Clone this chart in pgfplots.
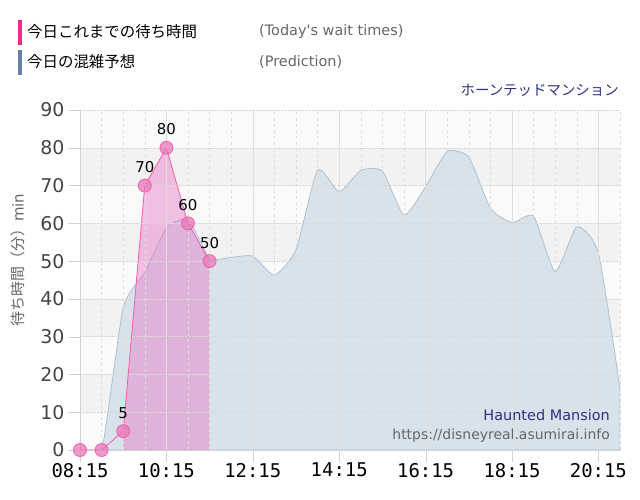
\documentclass[border=0pt]{standalone}
\usepackage{pgfplots}
\pgfplotsset{compat=1.18}
\usepackage{fontspec}
\setmainfont{DejaVu Sans}
\newfontfamily\latinplain{DejaVu Sans}[Ligatures=TeXOff]
\newfontfamily\monof{DejaVu Sans Mono}
\newfontfamily\jp{Noto Sans CJK JP}

\definecolor{legpink}{HTML}{F0288C}
\definecolor{legblue}{HTML}{6680A8}
\definecolor{navy}{HTML}{2B3480}
\definecolor{txtgray}{HTML}{666666}
\definecolor{ticktxt}{HTML}{444444}
\definecolor{bandlight}{HTML}{FAFAFA}
\definecolor{banddark}{HTML}{F2F2F2}
\definecolor{predfill}{HTML}{D8E2EB}
\definecolor{predline}{HTML}{AFC0CC}
\definecolor{pinkfill}{HTML}{E878C4}
\definecolor{pinkline}{HTML}{F060A8}
\definecolor{pinkmark}{HTML}{E878B8}

\begin{document}
\begin{tikzpicture}
\path[use as bounding box] (0,0) rectangle (640bp,500bp);

% legend
\fill[legpink] (18bp,455bp) rectangle (22bp,480bp);
\node[anchor=west, inner sep=0pt] at (27bp,468bp) {\jp\fontsize{15.5}{16}\selectfont 今日これまでの待ち時間};
\node[anchor=west, inner sep=0pt, text=txtgray] at (259bp,468bp) {\latinplain\fontsize{14.5}{15}\selectfont (Today's wait times)};
\fill[legblue] (18bp,425bp) rectangle (22bp,450bp);
\node[anchor=west, inner sep=0pt] at (27bp,438bp) {\jp\fontsize{15.5}{16}\selectfont 今日の混雑予想};
\node[anchor=west, inner sep=0pt, text=txtgray] at (259bp,438bp) {\latinplain\fontsize{14.5}{15}\selectfont (Prediction)};

% title
\node[anchor=east, inner sep=0pt, text=navy] at (619bp,410bp) {\jp\fontsize{14.5}{15}\selectfont ホーンテッドマンション};

% y label
\node[rotate=90, inner sep=0pt, text=txtgray] at (18bp,240bp) {\jp\fontsize{15}{15}\selectfont 待ち時間（分）\fontspec{DejaVu Sans}min};

\begin{axis}[
    at={(80bp,50bp)}, anchor=south west,
    scale only axis,
    width=540bp, height=340bp,
    xmin=8.25, xmax=20.75,
    ymin=0, ymax=90,
    axis on top,
    axis x line*=bottom, axis y line*=left,
    axis line style={gray!35, -},
    tick align=outside,
    major tick length=12bp,
    minor tick length=0pt,
    tick style={gray!35},
    xtick={8.25,10.25,12.25,14.25,16.25,18.25,20.25},
    xticklabels={08:15,10:15,12:15,14:15,16:15,18:15,20:15},
    minor xtick={8.75,9.25,9.75,10.75,11.25,11.75,12.75,13.25,13.75,14.75,15.25,15.75,16.75,17.25,17.75,18.75,19.25,19.75,20.75},
    ytick={0,10,...,90},
    xmajorgrids, xminorgrids, ymajorgrids,
    x grid style={gray!25},
    minor x grid style={gray!25, dashed},
    y grid style={gray!30, densely dotted},
    /pgf/number format/assume math mode=true,
    xticklabel style={font=\monof\fontsize{19}{19}\selectfont, text=black, inner sep=1bp},
    yticklabel style={font=\fontsize{19}{19}\selectfont, text=ticktxt},
    clip=true,
]
% background bands
\fill[bandlight] (axis cs:8.25,0) rectangle (axis cs:20.75,90);
\fill[banddark] (axis cs:8.25,70) rectangle (axis cs:20.75,80);
\fill[banddark] (axis cs:8.25,50) rectangle (axis cs:20.75,60);
\fill[banddark] (axis cs:8.25,30) rectangle (axis cs:20.75,40);
\fill[banddark] (axis cs:8.25,10) rectangle (axis cs:20.75,20);

% prediction
\addplot[smooth, tension=0.35, fill=predfill, draw=predline, line width=0.8bp] coordinates {
(8.25,0) (8.75,0) (9.25,37.6) (9.75,47) (10.25,58.7) (10.75,61) (11.25,50.8)
(11.75,51) (12.25,51.3) (12.75,46.3) (13.25,53) (13.75,74.1) (14.25,68.4)
(14.75,74) (15.25,73.8) (15.75,62.2) (16.25,69.7) (16.75,79) (17.25,77.5)
(17.75,64) (18.25,60.2) (18.75,61.9) (19.25,47.2) (19.75,59.1) (20.25,52.1)
(20.75,16.3)
} \closedcycle;

% today's wait times: area
\addplot[fill=pinkfill, fill opacity=0.45, draw=none] coordinates {
(9.25,5) (9.75,70) (10.25,80) (10.75,60) (11.25,50)
} \closedcycle;

% today's wait times: line and markers
\addplot[pinkline, line width=0.8bp, mark=*, mark size=6.5bp,
    mark options={fill=pinkmark, draw=none, fill opacity=0.75}] coordinates {
(8.25,0) (8.75,0) (9.25,5) (9.75,70) (10.25,80) (10.75,60) (11.25,50)
};

% value labels
\addplot[draw=none, mark=none, nodes near coords,
    every node near coord/.append style={font=\fontsize{15}{15}\selectfont, text=black, anchor=base, inner sep=0pt, yshift=13bp}] coordinates {
(9.25,5) (9.75,70) (10.25,80) (10.75,60) (11.25,50)
};
\end{axis}

% watermark (drawn above the grid)
\node[anchor=east, inner sep=0pt, text=navy] at (610bp,85bp) {\latinplain\fontsize{14.5}{15}\selectfont Haunted Mansion};
\node[anchor=east, inner sep=0pt, text=txtgray] at (610bp,64bp) {\latinplain\fontsize{14}{15}\selectfont https://disneyreal.asumirai.info};
\end{tikzpicture}
\end{document}
